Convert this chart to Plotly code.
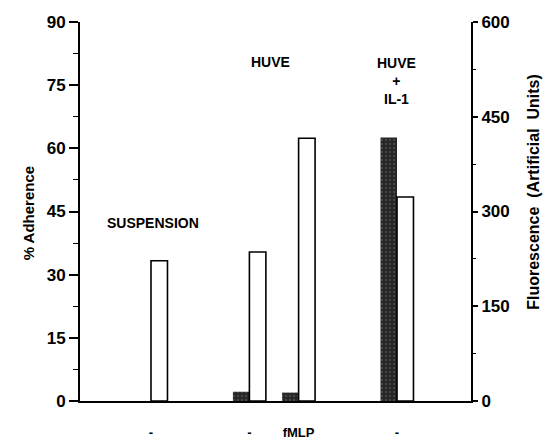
import plotly.graph_objects as go

# Data
group_pos = [0, 2, 3, 5]                 # slot index of each condition on the x axis
fmlp_labels = ["-", "-", "fMLP", "-"]
adherence = [0, 2.2, 2.0, 62.6]          # % adherence (dark bars, left axis)
fluorescence = [222, 236, 416, 323]      # fluorescence (white bars, right axis)
group_titles = ["SUSPENSION", "HUVE", "HUVE<br>+<br>IL-1"]
title_pos = [0.05, 2.42, 4.98]
title_y = [42.3, 80.5, 76.0]

BW = 0.335
FONT = "Liberation Sans, Arial, Helvetica, sans-serif"

fig = go.Figure()
fig.add_trace(go.Bar(
    x=group_pos, y=adherence, width=BW, offset=-BW,
    marker=dict(color="#262626", line=dict(width=0),
                pattern=dict(shape=".", fgcolor="#6a6a6a", bgcolor="#262626", size=4, solidity=0.25)),
    yaxis="y", showlegend=False))
fig.add_trace(go.Bar(
    x=group_pos, y=fluorescence, width=BW, offset=0,
    marker=dict(color="white", line=dict(color="black", width=1.6)),
    yaxis="y2", showlegend=False))

for t, xp, yp in zip(group_titles, title_pos, title_y):
    fig.add_annotation(x=xp, y=yp, xref="x", yref="y", text=t, showarrow=False,
                       font=dict(family=FONT, size=14, color="black", weight="bold"))

fig.add_annotation(x=-0.159, y=0.496, xref="paper", yref="paper", text="% Adherence",
                   textangle=-90, showarrow=False,
                   font=dict(family=FONT, size=15, color="black", weight="bold"))
fig.add_annotation(x=1.187, y=0.551, xref="paper", yref="paper",
                   text="Fluorescence  (Artificial  Units)",
                   textangle=-90, showarrow=False,
                   font=dict(family=FONT, size=16, color="black", weight="bold"))

fig.update_layout(
    width=554, height=442,
    margin=dict(l=80, r=83, t=22, b=41, autoexpand=False),
    paper_bgcolor="white", plot_bgcolor="white",
    barmode="overlay",
    font=dict(family=FONT, color="black"),
    xaxis=dict(range=[-1.443, 6.504], showgrid=False, zeroline=False, automargin=False,
               showline=True, linecolor="black", linewidth=2,
               tickvals=group_pos, ticktext=fmlp_labels, ticks="",
               ticklabelstandoff=18,
               tickfont=dict(family=FONT, size=13, color="black", weight="bold")),
    yaxis=dict(range=[0, 90], tickvals=[0, 15, 30, 45, 60, 75, 90],
               showgrid=False, zeroline=False, automargin=False,
               showline=True, linecolor="black", linewidth=2,
               ticks="outside", ticklen=9, tickwidth=1.5, tickcolor="black",
               minor=dict(tickvals=[7.5, 22.5, 37.5, 52.5, 67.5, 82.5], ticks="outside",
                          ticklen=5, tickwidth=1.2, tickcolor="black"),
               tickfont=dict(family=FONT, size=17, color="black", weight="bold")),
    yaxis2=dict(range=[0, 600], tickvals=[0, 150, 300, 450, 600],
                overlaying="y", side="right", anchor="x",
                showgrid=False, zeroline=False, automargin=False,
                showline=True, linecolor="black", linewidth=2,
                ticks="outside", ticklen=5, tickwidth=1.5, tickcolor="black",
                minor=dict(tickvals=[75, 225, 375, 525], ticks="outside",
                           ticklen=3, tickwidth=1.2, tickcolor="black"),
                tickfont=dict(family=FONT, size=17, color="black", weight="bold")),
)

fig.write_html("out.html")
